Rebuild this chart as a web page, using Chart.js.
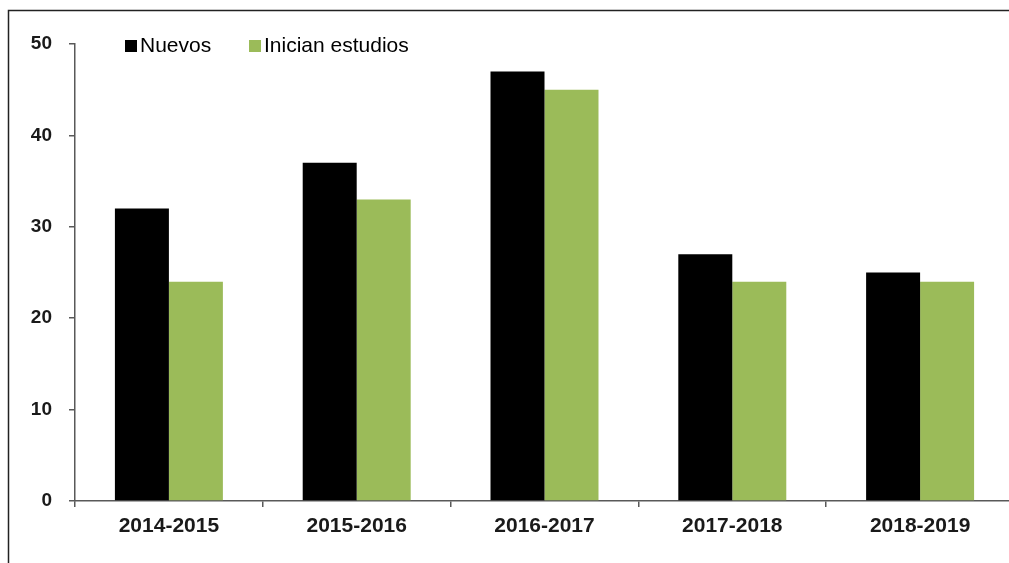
<!DOCTYPE html>
<html>
<head>
<meta charset="utf-8">
<script src="https://cdn.jsdelivr.net/npm/chart.js@4"></script>
<style>
  html, body { margin: 0; padding: 0; background: #fff; overflow: hidden; }
  #wrap { width: 1016px; height: 563px; }
</style>
</head>
<body>
<div id="wrap"><canvas id="myChart" width="1016" height="563"></canvas></div>
<script>
// datos
const cursos = ["2014-2015", "2015-2016", "2016-2017", "2017-2018", "2018-2019"];
const nuevos = [32, 37, 47, 27, 25];
const inicianEstudios = [24, 33, 45, 24, 24];
const yTicks = [0, 10, 20, 30, 40, 50];

const axisColor = "#595959";
const fontFamily = "'Liberation Sans', Arial, sans-serif";

// marco a la izquierda y arriba (la imagen original está recortada)
const framePlugin = {
  id: "frame",
  beforeDraw(chart) {
    const c = chart.ctx;
    c.save();
    c.strokeStyle = "#222";
    c.lineWidth = 1.5;
    c.beginPath();
    c.moveTo(8.5, chart.height);
    c.lineTo(8.5, 10.5);
    c.lineTo(chart.width, 10.5);
    c.stroke();
    c.restore();
  },
};

// leyenda dibujada dentro del área del gráfico
const legendPlugin = {
  id: "insideLegend",
  afterDraw(chart) {
    const c = chart.ctx;
    const xs = [125, 249];
    c.save();
    c.font = "21px " + fontFamily;
    c.textBaseline = "middle";
    chart.data.datasets.forEach((ds, i) => {
      c.fillStyle = ds.backgroundColor;
      c.fillRect(xs[i], 40, 12, 12);
      c.fillStyle = "#000";
      c.fillText(ds.label, xs[i] + 15, 46);
    });
    c.restore();
  },
};

const ctx = document.getElementById("myChart").getContext("2d");

const config = {
  type: "bar",
  data: {
    labels: cursos,
    datasets: [
      {
        label: "Nuevos",
        data: nuevos,
        backgroundColor: "#000000",
        borderWidth: 0,
      },
      {
        label: "Inician estudios",
        data: inicianEstudios,
        backgroundColor: "#9BBB59",
        borderWidth: 0,
      },
    ],
  },
  options: {
    responsive: false,
    devicePixelRatio: 1,
    animation: false,
    layout: {
      padding: { top: 44, right: 2, bottom: 0, left: 0 },
    },
    datasets: {
      bar: {
        categoryPercentage: 0.575,
        barPercentage: 1,
      },
    },
    plugins: {
      legend: { display: false },
      tooltip: { enabled: false },
      title: { display: false },
    },
    scales: {
      x: {
        grid: {
          display: true,
          drawOnChartArea: false,
          drawTicks: true,
          tickLength: 6,
          color: axisColor,
          lineWidth: 1.5,
          offset: true,
        },
        border: { display: true, color: axisColor, width: 1.5 },
        ticks: {
          color: "#1a1a1a",
          padding: 7,
          maxRotation: 0,
          font: { family: fontFamily, size: 21, weight: "bold" },
        },
        afterFit(scale) {
          scale.height = 62;
        },
      },
      y: {
        min: 0,
        max: 50,
        afterBuildTicks(scale) {
          scale.ticks = yTicks.map(v => ({ value: v }));
        },
        grid: {
          display: true,
          drawOnChartArea: false,
          drawTicks: true,
          tickLength: 6,
          color: axisColor,
          lineWidth: 1.5,
        },
        border: { display: true, color: axisColor, width: 1.5 },
        ticks: {
          color: "#1a1a1a",
          padding: 17,
          font: { family: fontFamily, size: 19, weight: "bold" },
        },
        afterFit(scale) {
          scale.width = 75;
        },
      },
    },
  },
  plugins: [framePlugin, legendPlugin],
};

const chart = new Chart(ctx, config);
</script>
</body>
</html>
